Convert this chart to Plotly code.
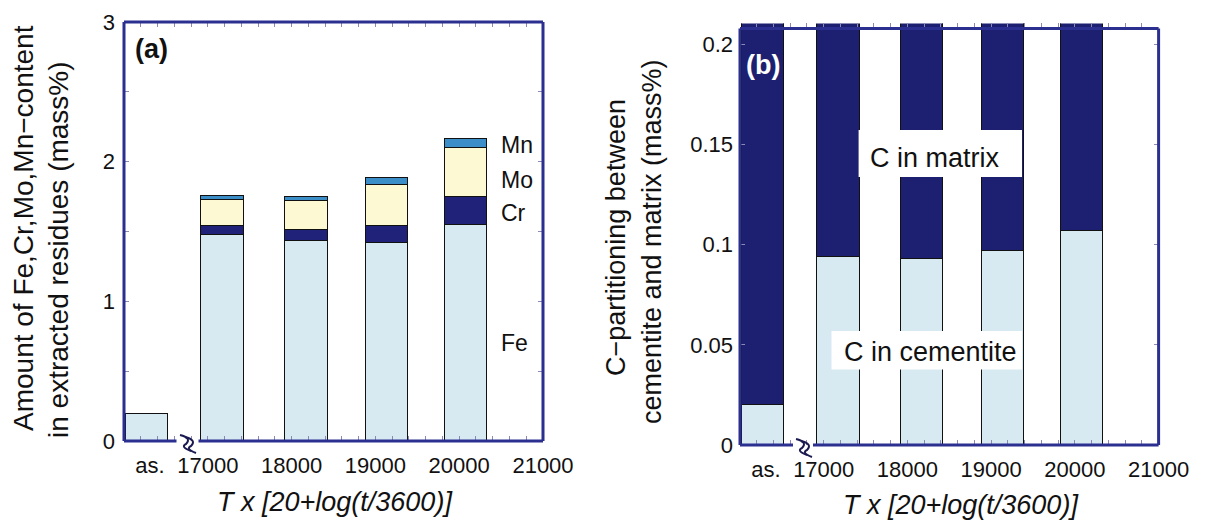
import plotly.graph_objects as go

# ---------------- data ----------------
categories = ["as.", "17000", "18000", "19000", "20000"]
x_pos = [16270, 17170, 18170, 19135, 20075]          # Larson-Miller parameter position of each bar
fe = [0.20, 1.475, 1.434, 1.42, 1.553]
cr = [None, 0.065, 0.081, 0.124, 0.201]
mo = [None, 0.19, 0.21, 0.294, 0.348]
mn = [None, 0.03, 0.029, 0.05, 0.065]
c_cementite = [0.020, 0.094, 0.093, 0.097, 0.107]
c_matrix = [0.192, 0.118, 0.119, 0.115, 0.105]

x_tickvals = [16310, 17000, 18000, 19000, 20000, 21000]
x_ticktext = ["as.", "17000", "18000", "19000", "20000", "21000"]
ya_tickvals = [0, 1, 2, 3]
yb_tickvals = [0, 0.05, 0.1, 0.15, 0.2]
yb_ticktext = ["0", "0.05", "0.1", "0.15", "0.2"]

# ---------------- style ----------------
W, H = 1207, 524
OFF = 8  # default page body margin of the html page
FONT = "Liberation Sans, Arial, sans-serif"
NAVY = "#2b2f8f"
C_FE = "#d7eaf2"
C_CR = "#20227a"
C_MO = "#fdf9d3"
C_MN = "#3c8ec8"
C_MATRIX = "#1d1f70"
TICKC = "#8a8ab5"
BAR_W = 505
TICKFONT = dict(family=FONT, size=22, color="#111")


def px(x):
    return (x - OFF) / W


def py(y):
    return 1 - (y - OFF) / H


fig = go.Figure()
line = dict(color="#111111", width=1)
for name, vals, col in [("Fe", fe, C_FE), ("Cr", cr, C_CR), ("Mo", mo, C_MO), ("Mn", mn, C_MN)]:
    fig.add_trace(go.Bar(x=x_pos, y=vals, name=name, width=BAR_W,
                         marker=dict(color=col, line=line), xaxis="x", yaxis="y"))
fig.add_trace(go.Bar(x=x_pos, y=c_cementite, name="C in cementite", width=BAR_W,
                     marker=dict(color=C_FE, line=line), xaxis="x2", yaxis="y2"))
fig.add_trace(go.Bar(x=x_pos, y=c_matrix, name="C in matrix", width=BAR_W,
                     marker=dict(color=C_MATRIX, line=line), xaxis="x2", yaxis="y2"))

xa_common = dict(range=[16000, 21000], tickvals=x_tickvals, ticktext=x_ticktext,
                 ticks="inside", ticklen=0, showline=False, showgrid=False, zeroline=False,
                 automargin=False,
                 mirror="ticks", tickfont=TICKFONT, ticklabelstandoff=9,
                 minor=dict(tick0=16000, dtick=200, ticks="inside", ticklen=5,
                            tickcolor=TICKC, tickwidth=1, showgrid=False))

fig.update_layout(
    width=W, height=H, margin=dict(l=0, r=0, t=0, b=0, pad=0, autoexpand=False),
    paper_bgcolor="white", plot_bgcolor="white",
    barmode="stack", showlegend=False,
    xaxis=dict(domain=[px(124), px(543)], anchor="y", **xa_common),
    yaxis=dict(domain=[py(441), py(22)], anchor="x", range=[0, 3], tickvals=ya_tickvals,
               ticks="inside", ticklen=0, showline=False, showgrid=False, zeroline=False,
               automargin=False,
               mirror="ticks", ticklabelstandoff=8, tickfont=TICKFONT,
               minor=dict(dtick=0.5, ticks="inside", ticklen=5, tickcolor=TICKC,
                          tickwidth=1, showgrid=False)),
    xaxis2=dict(domain=[px(740), px(1158.6)], anchor="y2", **xa_common),
    yaxis2=dict(domain=[py(445), py(23.4)], anchor="x2", range=[0, 0.2105],
                tickvals=yb_tickvals, ticktext=yb_ticktext,
                ticks="inside", ticklen=0, showline=False, showgrid=False, zeroline=False,
                automargin=False,
                mirror="ticks", ticklabelstandoff=6, tickfont=TICKFONT,
                minor=dict(dtick=0.05, ticks="inside", ticklen=5, tickcolor=TICKC,
                           tickwidth=1, showgrid=False)),
)

shapes = []


def seg(x0, y0, x1, y1, w=3, color=NAVY):
    shapes.append(dict(type="line", xref="paper", yref="paper",
                       x0=px(x0), y0=py(y0), x1=px(x1), y1=py(y1),
                       line=dict(color=color, width=w), layer="above"))


def wave(x, y, color="#1a1a50"):
    # small wavy stroke used for the axis-break symbol (pixel coords of its top point)
    pts = [(x, y), (x + 9, y + 5), (x + 2, y + 10), (x + 11, y + 16)]
    p = "M {:.5f} {:.5f} Q {:.5f} {:.5f} {:.5f} {:.5f} Q {:.5f} {:.5f} {:.5f} {:.5f}".format(
        px(pts[0][0]), py(pts[0][1]),
        px(pts[1][0] + 3), py(pts[1][1] - 2), px(pts[2][0] + 4), py(pts[2][1] - 1),
        px(pts[2][0] - 2), py(pts[2][1] + 2), px(pts[3][0]), py(pts[3][1]))
    shapes.append(dict(type="path", xref="paper", yref="paper", path=p,
                       line=dict(color=color, width=2), layer="above"))


# frame (a) with broken bottom axis
seg(124, 22, 543, 22)
seg(124, 22, 124, 441)
seg(543, 22, 543, 441)
seg(124, 441, 176.5, 441)
seg(198.5, 441, 543, 441)
# frame (b)
seg(740, 28.4, 1158.6, 28.4)
seg(740, 28.4, 740, 445)
seg(1158.6, 28.4, 1158.6, 445)
seg(740, 445, 793, 445)
seg(813, 445, 1158.6, 445)
# axis-break symbols
for bx, by in [(180, 435), (796, 439)]:
    wave(bx, by)
    wave(bx + 5, by + 2)

# white label boxes in (b)
for (x0, y0, x1, y1) in [(858.6, 130, 1022, 177), (831.5, 331, 1022, 369.6)]:
    shapes.append(dict(type="rect", xref="paper", yref="paper",
                       x0=px(x0), y0=py(y1), x1=px(x1), y1=py(y0),
                       fillcolor="white", line=dict(width=0), layer="above"))
fig.update_layout(shapes=shapes)

ann = []


def text(x, y, s, size=23, color="#111", angle=0, bold=False, xanchor="center"):
    if bold:
        s = "<b>" + s + "</b>"
    ann.append(dict(x=px(x), y=py(y), xref="paper", yref="paper", text=s, showarrow=False,
                    xanchor=xanchor, yanchor="middle", textangle=angle,
                    font=dict(family=FONT, size=size, color=color)))


text(151, 49, "(a)", size=27, bold=True)
text(762.5, 65, "(b)", size=27, bold=True, color="white")
text(499, 145, "Mn", xanchor="left")
text(499, 180, "Mo", xanchor="left")
text(499, 213, "Cr", xanchor="left")
text(499, 343, "Fe", xanchor="left")
text(935, 158, "C in matrix", size=27)
text(930, 352, "C in cementite", size=27)
text(335, 502, "<i>T x [20+log(t/3600)]</i>", size=27)
text(961, 505, "<i>T x [20+log(t/3600)]</i>", size=27)
text(24, 228, "Amount of Fe,Cr,Mo,Mn\u2212content", size=28, angle=-90)
text(58, 250, "in extracted residues (mass%)", size=28, angle=-90)
text(616, 238, "C\u2212partitioning between", size=27, angle=-90)
text(652, 242, "cementite and matrix (mass%)", size=27, angle=-90)
fig.update_layout(annotations=ann)

fig.write_html("out.html")
